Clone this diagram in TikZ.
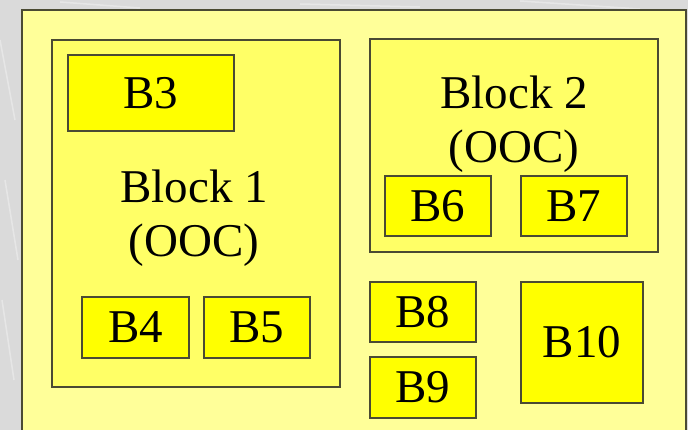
\documentclass[tikz,border=0pt]{standalone}
\usepackage{fontspec}
\setmainfont{Liberation Serif}
\definecolor{bggray}{HTML}{DADADA}
\definecolor{outerfill}{HTML}{FFFF99}
\definecolor{blockfill}{HTML}{FFFF66}
\definecolor{boxfill}{HTML}{FFFF00}
\definecolor{edge}{HTML}{4A4A33}
\tikzset{
  outerbox/.style={fill=outerfill, draw=edge, line width=1.2pt},
  blockbox/.style={fill=blockfill, draw=edge, line width=1.2pt},
  smallbox/.style={fill=boxfill, draw=edge, line width=1.2pt},
  lbl/.style={font=\fontsize{47}{54}\selectfont, text=black, inner sep=0pt, align=center},
}
\begin{document}
\begin{tikzpicture}[x=1pt, y=-1pt]
\useasboundingbox (0,0) rectangle (688,430);
\fill[bggray] (0,0) rectangle (688,430);
\foreach \a/\b/\c/\d in {0/40/15/120, 5/180/18/260, 2/300/14/380, 60/2/140/8, 300/4/420/7, 520/1/640/9}
  \draw[white, opacity=0.35, line width=1.5pt] (\a,\b) -- (\c,\d);
% outer
\path[outerbox] (22,10) rectangle (686,440);
% Block 1
\path[blockbox] (52,40) rectangle (340,387);
\node[smallbox, minimum width=166pt, minimum height=76pt, inner sep=0pt] (b3) at (151,93) {};
\node[lbl] (b3t) at (b3.center) {B3};
\node[lbl, anchor=base] (blk1a) at (194,203) {Block 1};
\node[lbl, anchor=base] (blk1b) at (194,257) {(OOC)};
\node[smallbox, minimum width=107pt, minimum height=61pt, inner sep=0pt] (b4) at (135.5,327.5) {};
\node[lbl] at (b4.center) {B4};
\node[smallbox, minimum width=106pt, minimum height=61pt, inner sep=0pt] (b5) at (257,327.5) {};
\node[lbl] at (b5.center) {B5};
% Block 2
\path[blockbox] (370,39) rectangle (658,252);
\node[lbl, anchor=base] (blk2a) at (514,109) {Block 2};
\node[lbl, anchor=base] (blk2b) at (514,163) {(OOC)};
\node[smallbox, minimum width=106pt, minimum height=60pt, inner sep=0pt] (b6) at (438,206) {};
\node[lbl] at (b6.center) {B6};
\node[smallbox, minimum width=106pt, minimum height=60pt, inner sep=0pt] (b7) at (574,206) {};
\node[lbl] at (b7.center) {B7};
% lower right
\node[smallbox, minimum width=106pt, minimum height=60pt, inner sep=0pt] (b8) at (423,312) {};
\node[lbl] at (b8.center) {B8};
\node[smallbox, minimum width=106pt, minimum height=61pt, inner sep=0pt] (b9) at (423,387.5) {};
\node[lbl] at (b9.center) {B9};
\node[smallbox, minimum width=122pt, minimum height=121pt, inner sep=0pt] (b10) at (582,342.5) {};
\node[lbl] at (b10.center) {B10};
\end{tikzpicture}
\end{document}
